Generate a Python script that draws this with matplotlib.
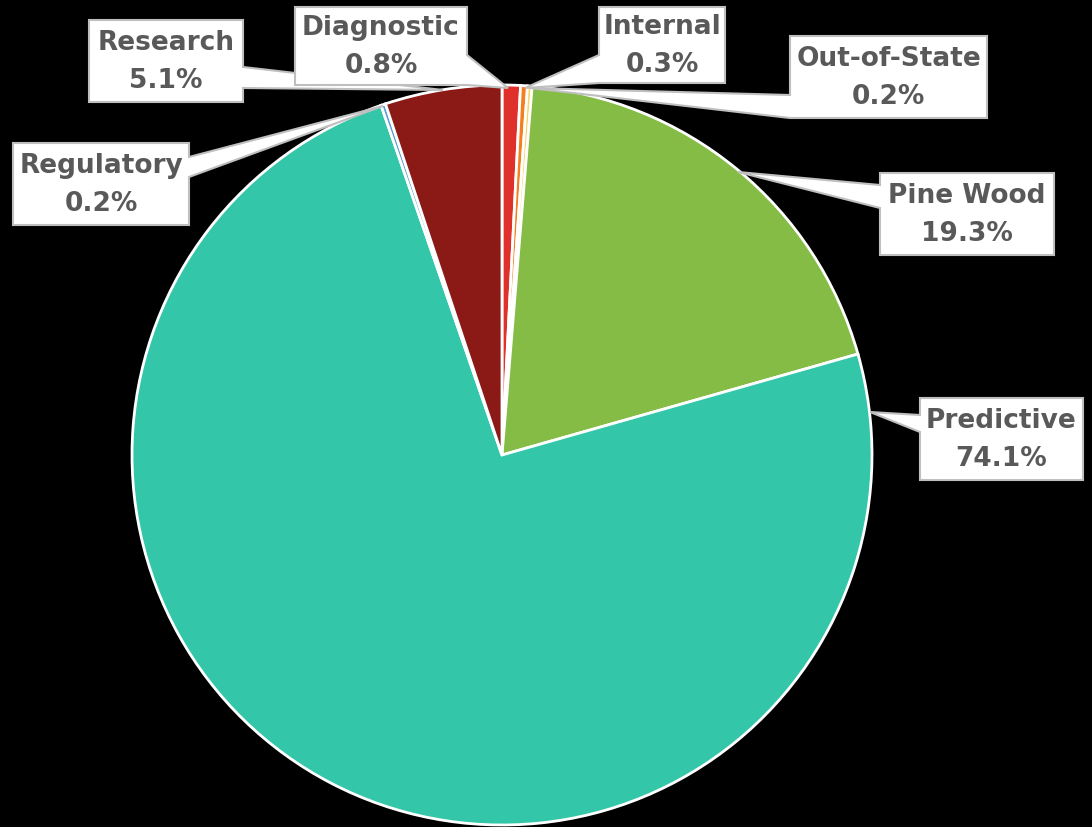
import matplotlib
matplotlib.use("Agg")
import matplotlib.pyplot as plt
from matplotlib.patches import Polygon

categories = ["Diagnostic", "Internal", "Out-of-State", "Pine Wood", "Predictive", "Regulatory", "Research"]
shares = [0.8, 0.3, 0.2, 19.3, 74.1, 0.2, 5.1]
colors = ["#E0302B", "#F57E1E", "#F7D468", "#84BC45", "#34C6A9", "#5B9BD5", "#8B1A17"]
pct_labels = ["0.8%", "0.3%", "0.2%", "19.3%", "74.1%", "0.2%", "5.1%"]

W, H = 1092, 827
CX, CY, R = 502, 455, 370

fig = plt.figure(figsize=(W / 100, H / 100), dpi=100, facecolor="black")
ax = fig.add_axes([0, 0, 1, 1])
ax.set_facecolor("black")

ax.pie(shares, colors=colors, startangle=90, counterclock=False, radius=1.0,
       wedgeprops=dict(edgecolor="white", linewidth=2.0))
ax.set_xlim(-CX / R, (W - CX) / R)
ax.set_ylim((CY - H) / R, CY / R)
ax.set_aspect("equal")
ax.axis("off")


def P(px, py):
    return ((px - CX) / R, (CY - py) / R)


# callout layout in pixels: box (x0, y0, x1, y1), side, base (a, b), tip
callouts = {
    "Research":     ((89, 20, 243, 102), "right", (67, 88), (443, 90)),
    "Diagnostic":   ((295, 7, 467, 85), "right", (55, 85), (508, 88)),
    "Internal":     ((599, 7, 725, 83), "left", (55, 83), (525, 88)),
    "Out-of-State": ((790, 36, 987, 118), "left", (95, 118), (530, 88)),
    "Pine Wood":    ((880, 173, 1054, 255), "left", (185, 208), (738, 172)),
    "Predictive":   ((920, 398, 1083, 480), "left", (415, 432), (870, 412)),
    "Regulatory":   ((13, 143, 189, 225), "right", (157, 177), (383, 106)),
}

order = ["Research", "Regulatory", "Diagnostic", "Internal", "Out-of-State", "Pine Wood", "Predictive"]
for name in order:
    (x0, y0, x1, y1), side, (a, b), tip = callouts[name]
    if side == "right":
        pts = [(x0, y0), (x1, y0), (x1, a), tip, (x1, b), (x1, y1), (x0, y1)]
    else:
        pts = [(x0, y0), (x1, y0), (x1, y1), (x0, y1), (x0, b), tip, (x0, a)]
    poly = Polygon([P(*p) for p in pts], closed=True, facecolor="white",
                   edgecolor="#BFBFBF", linewidth=1.5, zorder=5)
    ax.add_patch(poly)
    i = categories.index(name)
    cxp = (x0 + x1) / 2
    cyp = (y0 + y1) / 2
    ax.text(*P(cxp, cyp - 18), categories[i], ha="center", va="center",
            fontsize=19, color="#595959", fontfamily="DejaVu Sans", fontweight="bold", zorder=6)
    ax.text(*P(cxp, cyp + 20), pct_labels[i], ha="center", va="center",
            fontsize=19, color="#595959", fontfamily="DejaVu Sans", fontweight="bold", zorder=6)

fig.savefig("out.png", dpi=100, facecolor="black")
